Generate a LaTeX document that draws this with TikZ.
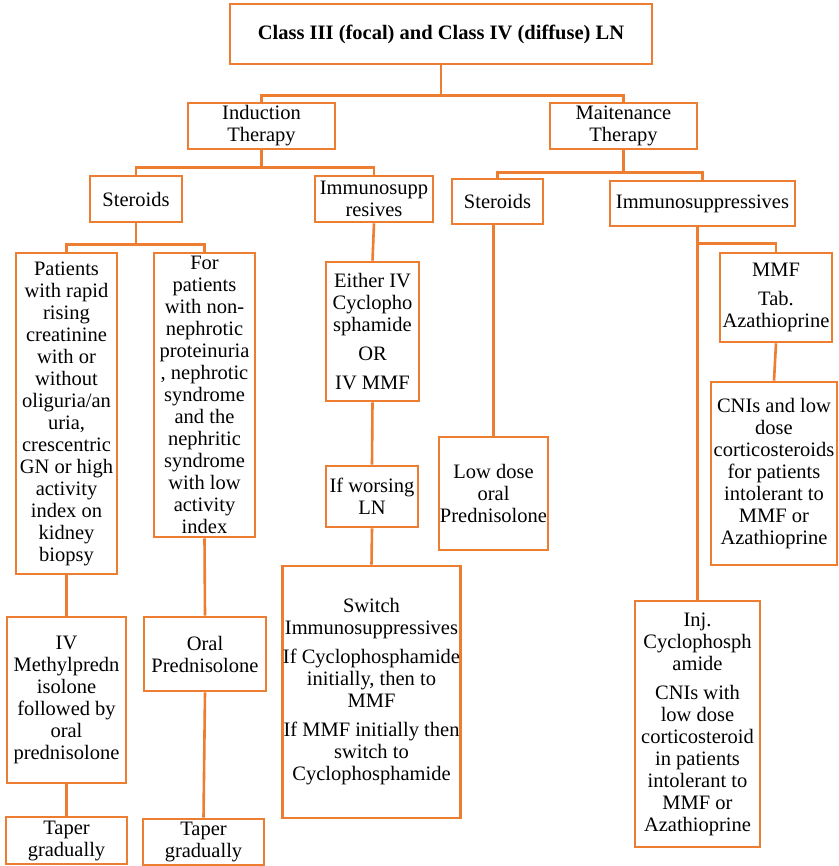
\documentclass[tikz,border=0pt]{standalone}
\usepackage{fontspec}
\setmainfont{Liberation Serif}
\newfontfamily\tnrfont{Liberation Serif}
\usepackage{tikz}
\definecolor{boxorange}{RGB}{237,125,49}

\begin{document}
\begin{tikzpicture}[x=1pt, y=-1pt, line width=2.6pt,
  every node/.style={align=center, font=\tnrfont\fontsize{20.5}{22}\selectfont},
  tbox/.style={draw=boxorange, rectangle, fill=white, inner sep=0.5pt},
  link/.style={draw=boxorange, line width=2.6pt}]
\useasboundingbox (0,0) rectangle (838,866);

% Nodes (top levels)
\node (title) [tbox, minimum width=422pt, minimum height=60pt] at (441,34) {\textbf{Class III (focal) and Class IV (diffuse) LN}};
\node (induction) [tbox, minimum width=147pt, minimum height=46pt] at (261.5,126) {Induction\\Therapy};
\node (maint) [tbox, minimum width=147pt, minimum height=46pt] at (623.5,126) {Maitenance\\Therapy};
\node (steroidsL) [tbox, minimum width=92pt, minimum height=46pt] at (136,199) {Steroids};
\node (immunoL) [tbox, minimum width=118pt, minimum height=46pt] at (374,199) {Immunosupp\\resives};
\node (steroidsR) [tbox, minimum width=91pt, minimum height=45pt] at (497.5,201.5) {Steroids};
\node (immunoR) [tbox, minimum width=185pt, minimum height=45pt] at (702.5,203.5) {Immunosuppressives};

% Nodes (induction branch)
\node (patients) [tbox, minimum width=101pt, minimum height=321pt] at (66.5,413.5) {Patients\\with rapid\\rising\\creatinine\\with or\\without\\oliguria/an\\uria,\\crescentric\\GN or high\\activity\\index on\\kidney\\biopsy};
\node (forpatients) [tbox, minimum width=101pt, minimum height=284pt] at (204.5,395) {For\\patients\\with non-\\nephrotic\\proteinuria\\, nephrotic\\syndrome\\and the\\nephritic\\syndrome\\with low\\activity\\index};
\node (ivmethyl) [tbox, minimum width=119pt, minimum height=166pt] at (66.5,700) {IV\\Methylpredn\\isolone\\followed by\\oral\\prednisolone};
\node (oralpred) [tbox, minimum width=122pt, minimum height=74pt] at (205,654) {Oral\\Prednisolone};
\node (taperL) [tbox, minimum width=121pt, minimum height=47pt] at (66.5,840.5) {Taper\\gradually};
\node (taperR) [tbox, minimum width=121pt, minimum height=46pt] at (203.5,842) {Taper\\gradually};
\node (either) [tbox, minimum width=93pt, minimum height=139pt] at (372.5,331.5) {Either IV\\Cyclopho\\sphamide\\[7pt]OR\\[7pt]IV MMF};
\node (worsing) [tbox, minimum width=92pt, minimum height=61pt] at (372,496.5) {If worsing\\LN};
\node (switch) [tbox, minimum width=177pt, minimum height=252pt] at (371.5,692) {Switch\\Immunosuppressives\\[7pt]If Cyclophosphamide\\initially, then to\\MMF\\[7pt]If MMF initially then\\switch to\\Cyclophosphamide};

% Nodes (maintenance branch)
\node (lowdose) [tbox, minimum width=109pt, minimum height=113pt] at (493.5,493.5) {Low dose\\oral\\Prednisolone};
\node (mmf) [tbox, minimum width=112pt, minimum height=89pt] at (776,297.5) {MMF\\[7pt]Tab.\\Azathioprine};
\node (cnis) [tbox, minimum width=126pt, minimum height=183pt] at (774,473.5) {CNIs and low\\dose\\corticosteroids\\for patients\\intolerant to\\MMF or\\Azathioprine};
\node (inj) [tbox, minimum width=125pt, minimum height=246pt] at (697.5,724) {Inj.\\Cyclophosph\\amide\\[7pt]CNIs with\\low dose\\corticosteroid\\in patients\\intolerant to\\MMF or\\Azathioprine};

% Lines
\draw[link] (title.south) -- ++(0,30) -| (induction.north);
\draw[link] (title.south) -- ++(0,30) -| (maint.north);
\draw[link] (induction.south) -- ++(0,17) -| (steroidsL.north);
\draw[link] (induction.south) -- ++(0,17) -| (immunoL.north);
\draw[link] (maint.south) -- ++(0,22) -| (steroidsR.north);
\draw[link] (maint.south) -- ++(0,22) -| (immunoR.north);
\draw[link] (steroidsL.south) -- ++(0,21) -| (patients.north);
\draw[link] (steroidsL.south) -- ++(0,21) -| (forpatients.north);
\draw[link] (immunoL.south) -- (either.north);
\draw[link] (either.south) -- (worsing.north);
\draw[link] (worsing.south) -- (switch.north);
\draw[link] (patients.south) -- (ivmethyl.north);
\draw[link] (ivmethyl.south) -- (taperL.north);
\draw[link] (forpatients.south) -- (oralpred.north);
\draw[link] (oralpred.south) -- (taperR.north);
\draw[link] (steroidsR.south -| lowdose.north) -- (lowdose.north);
\draw[link] (immunoR.south -| inj.north) -- (inj.north);
\draw[link] (immunoR.south -| inj.north) -- ++(0,16) -| (mmf.north);
\draw[link] (mmf.south) -- (cnis.north);

\end{tikzpicture}
\end{document}
